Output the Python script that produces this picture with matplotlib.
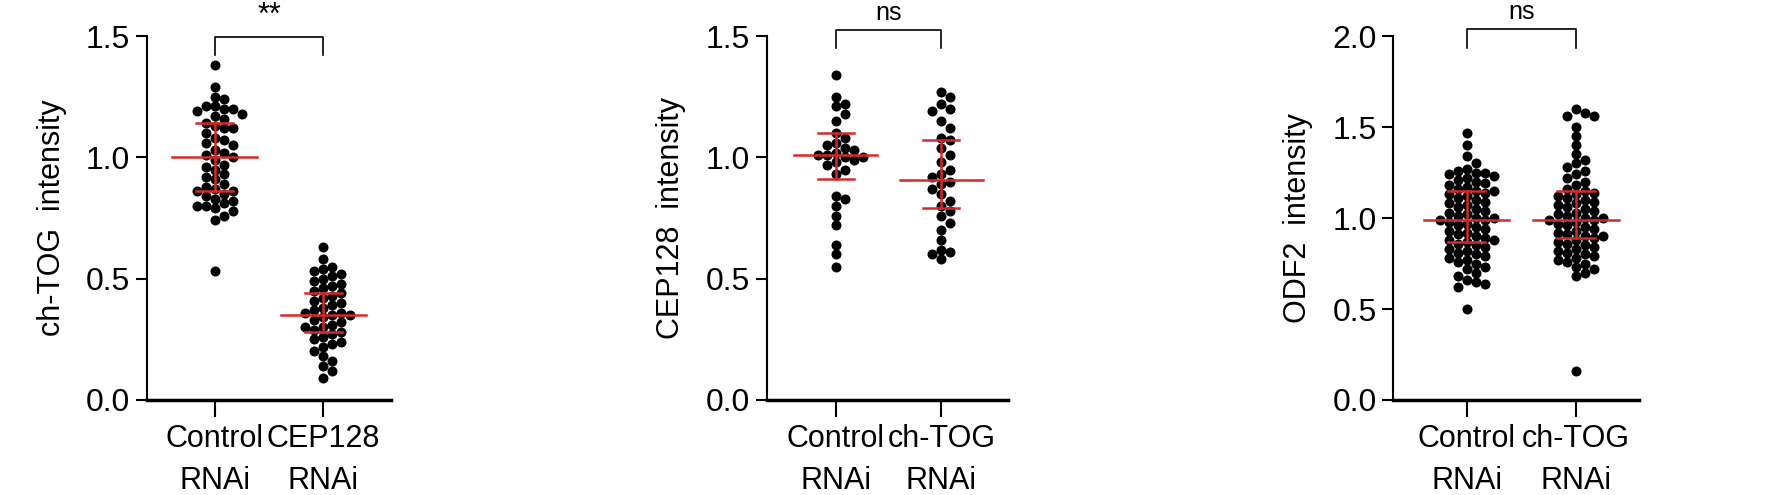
import numpy as np
import matplotlib
matplotlib.use("Agg")
import matplotlib.pyplot as plt

plt.rcParams["font.family"] = "Liberation Sans"

categories1 = ["Control\nRNAi", "CEP128\nRNAi"]
categories2 = ["Control\nRNAi", "ch-TOG\nRNAi"]
categories3 = ["Control\nRNAi", "ch-TOG\nRNAi"]

chtog_control = [1.38,1.29,1.25,1.24,1.21,1.21,1.20,1.20,1.19,1.18,1.17,1.16,1.14,1.13,1.12,1.12,1.10,1.08,
                 1.07,1.06,1.05,1.03,1.02,1.01,1.00,0.99,0.97,0.96,0.95,0.93,0.92,0.91,0.89,0.88,0.87,0.86,
                 0.86,0.85,0.84,0.83,0.82,0.81,0.80,0.80,0.79,0.78,0.76,0.74,0.53]
chtog_cep128 = [0.63,0.58,0.55,0.54,0.53,0.52,0.51,0.50,0.49,0.48,0.47,0.46,0.45,0.44,0.43,0.42,0.41,0.40,
                0.39,0.38,0.37,0.36,0.36,0.35,0.35,0.34,0.33,0.32,0.31,0.30,0.30,0.29,0.28,0.27,0.26,0.25,
                0.24,0.23,0.22,0.20,0.18,0.16,0.14,0.12,0.09]
cep128_control = [1.34,1.25,1.22,1.21,1.18,1.15,1.10,1.08,1.06,1.05,1.04,1.03,1.02,1.01,1.01,1.00,1.00,0.99,
                  0.98,0.97,0.95,0.93,0.84,0.83,0.80,0.76,0.72,0.64,0.60,0.55]
cep128_chtog = [1.27,1.25,1.22,1.20,1.19,1.15,1.12,1.08,1.07,1.04,1.01,0.98,0.95,0.93,0.92,0.90,0.89,0.87,
                0.85,0.82,0.80,0.78,0.76,0.73,0.70,0.66,0.62,0.61,0.60,0.58]
odf2_control = [1.47,1.40,1.34,1.30,1.27,1.26,1.25,1.25,1.24,1.23,1.22,1.21,1.20,1.19,1.18,1.17,1.16,1.15,
                1.15,1.14,1.13,1.12,1.11,1.10,1.09,1.08,1.07,1.06,1.05,1.04,1.03,1.02,1.01,1.00,1.00,0.99,
                0.99,0.98,0.97,0.96,0.95,0.94,0.93,0.92,0.91,0.90,0.89,0.88,0.88,0.87,0.86,0.85,0.84,0.83,
                0.82,0.81,0.80,0.79,0.78,0.77,0.76,0.75,0.73,0.72,0.70,0.68,0.66,0.65,0.64,0.62,0.50]
odf2_chtog = [1.60,1.58,1.56,1.56,1.50,1.45,1.40,1.35,1.32,1.30,1.28,1.26,1.24,1.22,1.20,1.18,1.16,1.15,
              1.14,1.13,1.12,1.11,1.10,1.09,1.08,1.07,1.06,1.05,1.04,1.03,1.02,1.01,1.00,1.00,0.99,0.99,
              0.98,0.97,0.96,0.95,0.94,0.93,0.92,0.91,0.90,0.90,0.89,0.88,0.87,0.86,0.85,0.84,0.83,0.82,
              0.81,0.80,0.79,0.78,0.77,0.76,0.75,0.73,0.72,0.70,0.68,0.16]

med1, q1_1, q3_1 = [1.00, 0.35], [0.86, 0.28], [1.14, 0.44]
med2, q1_2, q3_2 = [1.01, 0.905], [0.91, 0.79], [1.10, 1.07]
med3, q1_3, q3_3 = [0.99, 0.99], [0.87, 0.89], [1.15, 1.15]

fig = plt.figure(figsize=(17.75, 4.95), dpi=100)
RED = "#d42a2a"

def swarm(values, center, xpx, ypx, d=9.0):
    placed = []
    xs = []
    for v in values:
        y = v * ypx
        k = 0
        while True:
            offs = [0] if k == 0 else [k, -k]
            ok_off = None
            for o in offs:
                x = center * xpx + o * d * 0.5
                if all((x - px) ** 2 + (y - py) ** 2 >= d * d for px, py in placed):
                    ok_off = x
                    break
            if ok_off is not None:
                placed.append((ok_off, y))
                xs.append(ok_off / xpx)
                break
            k += 1
    return xs

def panel(rect, groups, cats, med, q1, q3, ymax, yticks, ylabel, sig, bary, bardrop, xlim):
    ax = fig.add_axes(rect)
    ax.set_xlim(*xlim)
    ax.set_ylim(0, ymax)
    bbox = ax.get_window_extent()
    xpx = bbox.width / (xlim[1] - xlim[0])
    ypx = bbox.height / ymax
    for i, g in enumerate(groups):
        xs = swarm(g, i, xpx, ypx)
        ax.scatter(xs, g, s=52, color="black", zorder=2, linewidths=0)
        ax.plot([i - 0.39, i + 0.39], [med[i]] * 2, color=RED, lw=1.8, zorder=3)
        ax.plot([i, i], [q1[i], q3[i]], color=RED, lw=1.8, zorder=3)
        for q in (q1[i], q3[i]):
            ax.plot([i - 0.17, i + 0.17], [q, q], color=RED, lw=1.8, zorder=3)
    ax.set_xticks([0, 1])
    ax.set_xticklabels(cats, fontsize=22, linespacing=1.55)
    ax.set_yticks(yticks)
    ax.set_yticklabels([f"{t:.1f}" for t in yticks], fontsize=23)
    ax.set_ylabel(ylabel, fontsize=22, labelpad=14)
    for s in ("top", "right"):
        ax.spines[s].set_visible(False)
    ax.spines["left"].set_linewidth(1.5)
    ax.spines["bottom"].set_linewidth(2.5)
    ax.tick_params(axis="y", length=8, width=1.5, pad=4)
    ax.tick_params(axis="x", length=12, width=1.5, pad=5)
    ax.plot([0, 0, 1, 1], [bary - bardrop, bary, bary, bary - bardrop], color="black", lw=1.2, clip_on=False)
    ax.text(0.5, bary + ymax * 0.015, sig, ha="center", va="bottom", fontsize=18 if sig == "ns" else 22, clip_on=False)
    return ax

panel([0.0828, 0.192, 0.1375, 0.735], [chtog_control, chtog_cep128], categories1, med1, q1_1, q3_1,
      1.5, [0.0, 0.5, 1.0, 1.5], "ch-TOG  intensity", "**", 1.497, 0.075, (-0.62, 1.62))
panel([0.432, 0.192, 0.136, 0.735], [cep128_control, cep128_chtog], categories2, med2, q1_2, q3_2,
      1.5, [0.0, 0.5, 1.0, 1.5], "CEP128  intensity", "ns", 1.525, 0.075, (-0.65, 1.63))
panel([0.785, 0.192, 0.1386, 0.735], [odf2_control, odf2_chtog], categories3, med3, q1_3, q3_3,
      2.0, [0.0, 0.5, 1.0, 1.5, 2.0], "ODF2  intensity", "ns", 2.037, 0.1, (-0.67, 1.58))

fig.savefig("out.png", dpi=100)
